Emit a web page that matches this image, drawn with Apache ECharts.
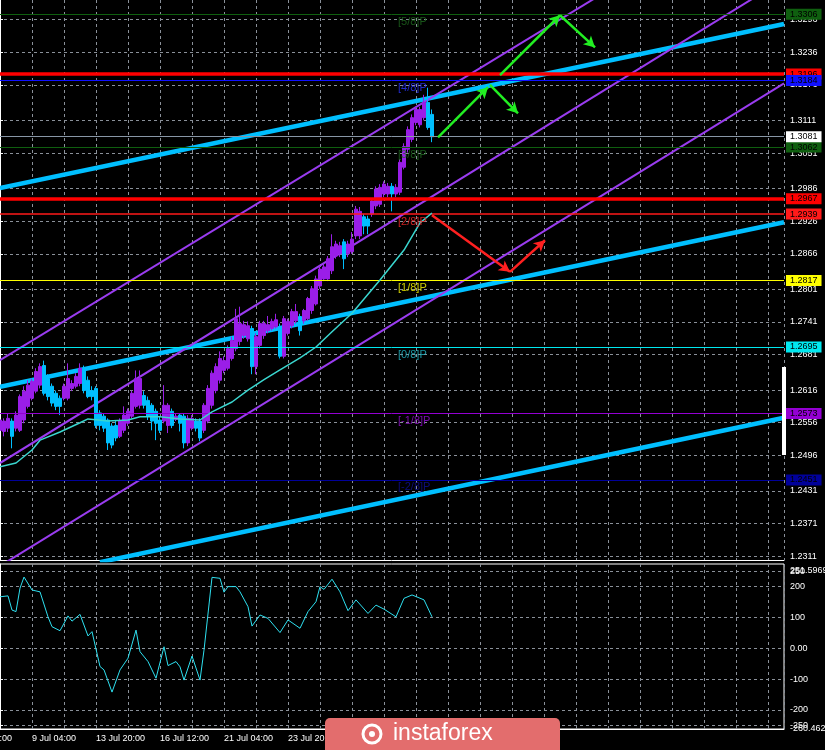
<!DOCTYPE html>
<html><head><meta charset="utf-8">
<script src="https://cdn.jsdelivr.net/npm/echarts@6/dist/echarts.min.js"></script>
<style>html,body{margin:0;padding:0;background:#000;}#c{width:825px;height:750px;}</style>
</head><body><div id="c"></div>
<script>
// ---- DATA ----
// H4 candles [open, close, low, high]
const candles = [
[1.2542,1.2561,1.2535,1.2568],[1.2540,1.2559,1.2531,1.2564],[1.2546,1.2564,1.2539,1.2573],[1.2559,1.2531,1.2509,1.2564],
[1.2546,1.2570,1.2540,1.2577],[1.2542,1.2604,1.2539,1.2608],[1.2561,1.2614,1.2555,1.2623],[1.2586,1.2625,1.2582,1.2634],
[1.2601,1.2632,1.2597,1.2637],[1.2614,1.2650,1.2610,1.2656],[1.2625,1.2659,1.2619,1.2665],[1.2661,1.2610,1.2606,1.2670],
[1.2637,1.2604,1.2597,1.2645],[1.2623,1.2592,1.2586,1.2628],[1.2610,1.2586,1.2579,1.2615],[1.2601,1.2586,1.2570,1.2606],
[1.2601,1.2623,1.2597,1.2628],[1.2601,1.2637,1.2597,1.2665],[1.2619,1.2628,1.2614,1.2634],[1.2623,1.2641,1.2619,1.2647],
[1.2628,1.2656,1.2623,1.2665],[1.2656,1.2615,1.2610,1.2661],[1.2634,1.2604,1.2601,1.2641],[1.2615,1.2604,1.2597,1.2623],
[1.2619,1.2551,1.2546,1.2623],[1.2574,1.2551,1.2542,1.2579],[1.2568,1.2546,1.2539,1.2573],[1.2561,1.2519,1.2506,1.2564],
[1.2550,1.2515,1.2509,1.2555],[1.2551,1.2528,1.2522,1.2559],[1.2531,1.2559,1.2528,1.2564],[1.2542,1.2570,1.2537,1.2586],
[1.2555,1.2577,1.2550,1.2582],[1.2568,1.2610,1.2564,1.2615],[1.2586,1.2637,1.2582,1.2652],[1.2588,1.2637,1.2582,1.2652],
[1.2606,1.2588,1.2582,1.2614],[1.2597,1.2568,1.2561,1.2604],[1.2588,1.2559,1.2542,1.2592],[1.2577,1.2555,1.2524,1.2582],
[1.2561,1.2542,1.2537,1.2568],[1.2559,1.2588,1.2555,1.2625],[1.2551,1.2588,1.2537,1.2592],[1.2577,1.2551,1.2546,1.2582],
[1.2562,1.2568,1.2559,1.2573],[1.2570,1.2555,1.2540,1.2573],[1.2568,1.2519,1.2509,1.2573],[1.2519,1.2564,1.2513,1.2570],
[1.2546,1.2564,1.2542,1.2570],[1.2559,1.2546,1.2540,1.2564],[1.2559,1.2528,1.2522,1.2564],[1.2542,1.2588,1.2537,1.2592],
[1.2559,1.2619,1.2555,1.2625],[1.2588,1.2647,1.2582,1.2652],[1.2615,1.2659,1.2610,1.2665],[1.2634,1.2674,1.2628,1.2687],
[1.2652,1.2670,1.2647,1.2678],[1.2656,1.2692,1.2652,1.2698],[1.2674,1.2707,1.2670,1.2714],[1.2692,1.2747,1.2687,1.2765],
[1.2705,1.2738,1.2698,1.2769],[1.2716,1.2736,1.2710,1.2743],[1.2710,1.2734,1.2705,1.2742],[1.2729,1.2659,1.2645,1.2734],
[1.2659,1.2714,1.2645,1.2720],[1.2698,1.2738,1.2692,1.2743],[1.2716,1.2738,1.2710,1.2743],[1.2725,1.2736,1.2720,1.2752],
[1.2729,1.2742,1.2725,1.2747],[1.2732,1.2745,1.2729,1.2756],[1.2732,1.2678,1.2674,1.2738],[1.2678,1.2747,1.2674,1.2752],
[1.2720,1.2742,1.2716,1.2747],[1.2734,1.2760,1.2729,1.2765],[1.2743,1.2760,1.2738,1.2774],[1.2751,1.2725,1.2716,1.2756],
[1.2743,1.2762,1.2738,1.2765],[1.2747,1.2784,1.2743,1.2787],[1.2762,1.2802,1.2756,1.2807],[1.2774,1.2820,1.2771,1.2826],
[1.2807,1.2838,1.2802,1.2844],[1.2820,1.2842,1.2816,1.2848],[1.2820,1.2857,1.2816,1.2862],[1.2835,1.2879,1.2829,1.2902],
[1.2862,1.2884,1.2857,1.2890],[1.2866,1.2881,1.2860,1.2888],[1.2888,1.2857,1.2838,1.2893],[1.2866,1.2884,1.2860,1.2890],
[1.2870,1.2893,1.2866,1.2906],[1.2899,1.2948,1.2893,1.2954],[1.2899,1.2944,1.2893,1.2952],[1.2934,1.2917,1.2902,1.2939],
[1.2930,1.2917,1.2902,1.2936],[1.2939,1.2963,1.2934,1.2968],[1.2954,1.2985,1.2948,1.2990],[1.2957,1.2988,1.2952,1.2994],
[1.2976,1.2994,1.2970,1.2999],[1.2976,1.2990,1.2970,1.2996],[1.2990,1.2976,1.2944,1.2996],[1.2976,1.2988,1.2970,1.2994],
[1.2979,1.3034,1.2974,1.3040],[1.3025,1.3063,1.3021,1.3069],[1.3058,1.3094,1.3052,1.3100],[1.3076,1.3116,1.3071,1.3122],
[1.3107,1.3131,1.3102,1.3136],[1.3103,1.3131,1.3098,1.3136],[1.3116,1.3144,1.3111,1.3158],[1.3144,1.3098,1.3094,1.3171],
[1.3122,1.3081,1.3071,1.3131]
];
// moving average read at bars [bar, price]
const maPoints = [[0,1.2475],[4,1.2482],[8,1.2506],[10,1.2524],[15,1.2539],[20,1.2556],[22,1.2563],[27,1.2559],[32,1.2561],
[35,1.2567],[40,1.2567],[45,1.2563],[50,1.2561],[53,1.2576],[58,1.2594],[62,1.2616],[66,1.2635],[70,1.2653],[75,1.2675],
[79,1.2695],[83,1.2723],[88,1.2757],[95,1.2818],[101,1.2873],[105,1.2923],[108,1.2941]];
// CCI read at bars [bar, value]
const cciPoints = [[0,167],[2,170],[3,124],[4,119],[5,195],[6,231],[8,189],[10,183],[12,102],[13,70],[15,57],[17,105],[18,88],
[20,110],[22,40],[23,54],[25,-59],[26,-70],[28,-142],[30,-70],[32,-32],[34,59],[35,-11],[37,-43],[39,-97],[41,5],[42,-56],
[44,-43],[45,-60],[46,-103],[48,-25],[50,-103],[51,-6],[53,230],[55,227],[56,182],[57,200],[59,200],[60,183],[62,135],[63,72],
[65,108],[67,97],[70,51],[72,92],[75,65],[77,119],[79,151],[80,200],[81,191],[83,224],[85,183],[87,122],[89,157],[92,113],
[94,140],[96,127],[99,102],[101,162],[103,173],[106,157],[108,102]];
const priceTicks = [1.3296,1.3236,1.3176,1.3111,1.3051,1.2986,1.2926,1.2866,1.2801,1.2741,1.2681,1.2616,1.2556,1.2496,1.2431,1.2371,1.2311];
const cciTicks = [250,200,100,0,-100,-200,-250];
const cciExtremes = [251.5969,-260.4627];
const dateLabels = ['6 Jul 12:00','9 Jul 04:00','13 Jul 20:00','16 Jul 12:00','21 Jul 04:00','23 Jul 20:00','28 Jul 12:00','31 Jul 04:00'];
const murrayNames = ['[5/8]P','[4/8]P','[3/8]P','[2/8]P','[1/8]P','[0/8]P','[-1/8]P','[-2/8]P'];
const murrayValues = [1.3306,1.3184,1.3062,1.2939,1.2817,1.2695,1.2573,1.2451];
const resistanceLevels = [1.3196,1.2967];
const currentPrice = 1.3081;
const blueTrends = [[[0,1.2987],[196,1.3288]],[[0,1.2622],[196,1.2924]],[[25,1.2300],[196,1.2565]]];
const purpleChannel = [[[0,1.2671],[163,1.3399]],[[0,1.2482],[196,1.3370]],[[0,1.2293],[196,1.3179]]];
const greenArrows = [[[109.5,1.3080],[122,1.3172]],[[122.5,1.3176],[129.5,1.3124]],[[125,1.3194],[140,1.3304]],[[140,1.3304],[148.75,1.3245]]];
const redArrows = [[[108,1.2937],[127.5,1.2833]],[[127.5,1.2833],[136.25,1.2891]]];

// ---- STYLE ----
const FONT = 'Liberation Sans';
const murrayColors = ['#0f5f0f','#1010ff','#0f5f0f','#ff1a1a','#ffff00','#00e8f0','#9400d3','#00009a'];
const murrayTextColors = ['#1f6a1f','#2a35ff','#1f6a1f','#ff2a2a','#ffff00','#22bccc','#9a10d8','#10109a'];
const gridDash = {color:'#8a9099', width:1, type:[3,3]};

const chart = echarts.init(document.getElementById('c'), null, {renderer:'canvas'});

function boxLabel(bg){
  return {show:true, position:'end', distance:2, color:'#000', backgroundColor:bg, padding:[1,4,0,4],
    fontFamily:FONT, fontSize:9, lineHeight:10, formatter: p => Number(p.value).toFixed(4)};
}
const levelLines = [];
resistanceLevels.forEach(v => levelLines.push({yAxis:v, lineStyle:{color:'#ff0000', width:3.5, type:'solid'}, label:boxLabel('#ff0000')}));
murrayValues.forEach((v,i) => levelLines.push({yAxis:v, lineStyle:{color:murrayColors[i], width: i===3?1.5:1, type:'solid'}, label:boxLabel(murrayColors[i])}));
levelLines.push({yAxis:currentPrice, lineStyle:{color:'#8896a6', width:1, type:'solid'}, label:boxLabel('#ffffff')});

const series = [];
blueTrends.forEach(seg => series.push({type:'line', xAxisIndex:0, yAxisIndex:0, data:seg, showSymbol:false, symbol:'none',
  lineStyle:{color:'#00bfff', width:4.5}, z:3, silent:true}));
purpleChannel.forEach(seg => series.push({type:'line', xAxisIndex:0, yAxisIndex:0, data:seg, showSymbol:false, symbol:'none',
  lineStyle:{color:'#9a3cf0', width:2}, z:3, silent:true}));
series.push({type:'line', xAxisIndex:0, yAxisIndex:0, data:[], z:2, silent:true,
  markLine:{silent:true, precision:4, symbol:['none','none'], animation:false, data:levelLines}});
series.push({type:'candlestick', xAxisIndex:0, yAxisIndex:0, data:candles.map((c,i)=>[i].concat(c)),
  encode:{x:0, y:[1,2,3,4]}, barWidth:2.8, z:4,
  itemStyle:{color:'#9a1ee8', color0:'#00bfff', borderColor:'#9a1ee8', borderColor0:'#00bfff', borderWidth:1}});
series.push({type:'line', xAxisIndex:0, yAxisIndex:0, data:maPoints, showSymbol:false, symbol:'none',
  lineStyle:{color:'#3ad6cf', width:1.5}, z:5, silent:true});
series.push({type:'scatter', xAxisIndex:0, yAxisIndex:0, symbolSize:0, z:6, silent:true,
  data:murrayValues.map((v,i)=>({value:[99.5,v], label:{color:murrayTextColors[i], formatter:murrayNames[i]}})),
  label:{show:true, position:[0,2], fontFamily:FONT, fontSize:11}});
function arrowLines(segs){
  return segs.map(s=>[{coord:s[0]},{coord:s[1]}]);
}
series.push({type:'line', xAxisIndex:0, yAxisIndex:0, data:[], z:7, silent:true,
  markLine:{silent:true, precision:4, symbol:['none','arrow'], symbolSize:[9,11], animation:false, label:{show:false},
    lineStyle:{color:'#22ee22', width:2.5, type:'solid'}, data:arrowLines(greenArrows)}});
series.push({type:'line', xAxisIndex:0, yAxisIndex:0, data:[], z:7, silent:true,
  markLine:{silent:true, precision:4, symbol:['none','arrow'], symbolSize:[9,11], animation:false, label:{show:false},
    lineStyle:{color:'#ff2020', width:2.5, type:'solid'}, data:arrowLines(redArrows)}});
series.push({type:'line', xAxisIndex:1, yAxisIndex:1, data:cciPoints, showSymbol:false, symbol:'none',
  lineStyle:{color:'#2ee0f0', width:1}, z:5, silent:true});

const option = {
  backgroundColor:'#000',
  animation:false,
  grid:[
    {left:-32, top:0, width:816, height:560, containLabel:false, outerBoundsMode:'none'},
    {left:-32, top:564, width:816, height:165, containLabel:false, outerBoundsMode:'none', show:true, borderColor:'#ffffff', borderWidth:1, backgroundColor:'transparent'}
  ],
  xAxis:[
    {type:'value', gridIndex:0, min:-8, max:196, interval:8,
      axisLine:{show:true, onZero:false, lineStyle:{color:'#fff', width:1}}, axisTick:{show:false}, axisLabel:{show:false},
      splitLine:{show:true, lineStyle:gridDash}},
    {type:'value', gridIndex:1, min:-8, max:196, interval:8,
      axisLine:{show:true, onZero:false, lineStyle:{color:'#fff', width:1}}, axisTick:{show:false},
      axisLabel:{show:true, color:'#fff', fontFamily:FONT, fontSize:9, margin:5, align:'left', hideOverlap:false,
        formatter: v => ((v+8)%16===0 && dateLabels[(v+8)/16]) ? dateLabels[(v+8)/16] : ''},
      splitLine:{show:true, lineStyle:gridDash}}
  ],
  yAxis:[
    {type:'value', gridIndex:0, position:'right', min:1.2304, max:1.3332,
      axisLine:{show:true, lineStyle:{color:'#fff', width:1}},
      axisTick:{show:true, customValues:priceTicks, length:3, lineStyle:{color:'#fff'}},
      axisLabel:{show:true, customValues:priceTicks, color:'#fff', fontFamily:FONT, fontSize:9, margin:6, formatter: v => Number(v).toFixed(4)},
      splitLine:{show:true, lineStyle:gridDash}},
    {type:'value', gridIndex:1, position:'right', min:-261.6, max:273.3,
      axisLine:{show:true, lineStyle:{color:'#fff', width:1}},
      axisTick:{show:true, customValues:cciTicks, length:3, lineStyle:{color:'#fff'}},
      axisLabel:{show:true, customValues:cciExtremes.concat(cciTicks), color:'#fff', fontFamily:FONT, fontSize:9, margin:6,
        formatter: v => Number.isInteger(v) ? (v===0 ? '0.00' : String(v)) : Number(v).toFixed(4)},
      splitLine:{show:true, lineStyle:gridDash}}
  ],
  series: series,
  graphic:[
    {type:'rect', left:782, top:367, shape:{width:4, height:88}, style:{fill:'#ffffff'}, z:100},
    {type:'rect', z:1000, zlevel:1, shape:{x:325, y:718, width:235, height:32, r:[5,5,0,0]}, style:{fill:'#e36d6d'}},
    {type:'circle', z:1001, zlevel:1, shape:{cx:372, cy:734, r:9}, style:{fill:'none', stroke:'#ffffff', lineWidth:3}},
    {type:'circle', z:1001, zlevel:1, shape:{cx:372, cy:734, r:3}, style:{fill:'#ffffff'}},
    {type:'text', z:1001, zlevel:1, x:393, y:734, style:{text:'instaforex', fill:'#ffffff', font:'23px "Liberation Sans"', verticalAlign:'middle'}}
  ]
};
chart.setOption(option);
</script>
</body></html>
